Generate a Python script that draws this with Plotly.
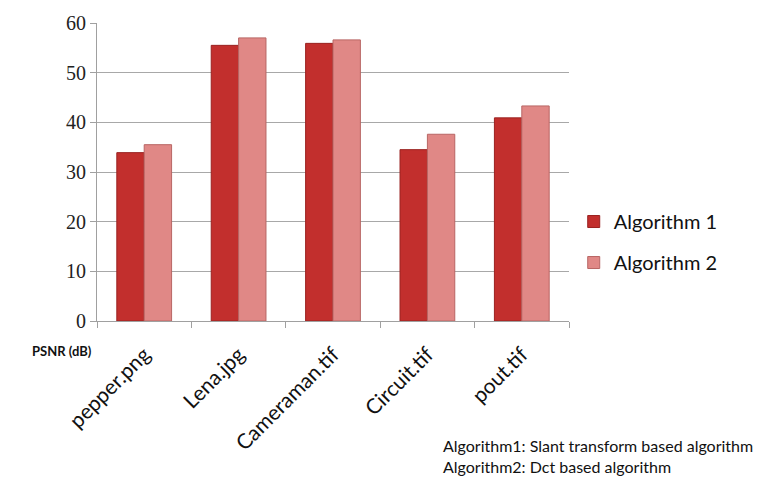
import plotly.graph_objects as go

images = ["pepper.png", "Lena.jpg", "Cameraman.tif", "Circuit.tif", "pout.tif"]
algorithm1 = [33.9, 55.5, 55.9, 34.5, 40.9]
algorithm2 = [35.5, 57.0, 56.6, 37.6, 43.3]
y_ticks = [0, 10, 20, 30, 40, 50, 60]

fig = go.Figure()
fig.add_trace(go.Bar(
    x=images, y=algorithm1, name="Algorithm 1", legendgroup="a1",
    marker=dict(color="#c22f2d", line=dict(color="#9a2220", width=1)),
))
fig.add_trace(go.Bar(
    x=images, y=algorithm2, name="Algorithm 2", legendgroup="a2",
    marker=dict(color="#e08886", line=dict(color="#b86664", width=1)),
))

fig.update_layout(
    width=758, height=486,
    margin=dict(l=97, r=189, t=15, b=165),
    paper_bgcolor="white", plot_bgcolor="white",
    barmode="group", bargap=0.42, bargroupgap=0,
    showlegend=True,
    legend=dict(
        x=1.01, y=0.265, xanchor="left", yanchor="middle",
        font=dict(family="Lato", size=20, color="#111"),
        itemwidth=30, tracegroupgap=12,
    ),
    font=dict(family="Lato", color="#111"),
)

fig.update_yaxes(
    range=[0, 60], tickvals=y_ticks,
    showgrid=True, gridcolor="#a8a8a8", gridwidth=1,
    showline=True, linecolor="#a0a0a0", linewidth=1,
    ticks="outside", ticklen=6, tickcolor="#a0a0a0",
    tickfont=dict(family="Liberation Serif, Times New Roman, serif", size=20, color="#222"),
    zeroline=False,
)
fig.update_xaxes(
    showline=True, linecolor="#a0a0a0", linewidth=1,
    ticks="outside", ticklen=6, tickcolor="#a0a0a0",
    tickson="boundaries",
    tickangle=-45, ticklabelstandoff=12,
    tickfont=dict(family="Lato", size=21, color="#111"),
)

fig.add_annotation(
    text="<b>PSNR (dB)</b>", xref="paper", yref="paper",
    x=-0.143, y=-0.1, xanchor="left", yanchor="middle",
    showarrow=False, font=dict(family="Lato", size=13, color="#111"),
)
fig.add_annotation(
    text="Algorithm1: Slant transform based algorithm<br>Algorithm2: Dct based algorithm",
    xref="paper", yref="paper", x=0.728, y=-0.38,
    xanchor="left", yanchor="top", align="left",
    showarrow=False, font=dict(family="Lato", size=16, color="#111"),
)

fig.write_html("out.html")
